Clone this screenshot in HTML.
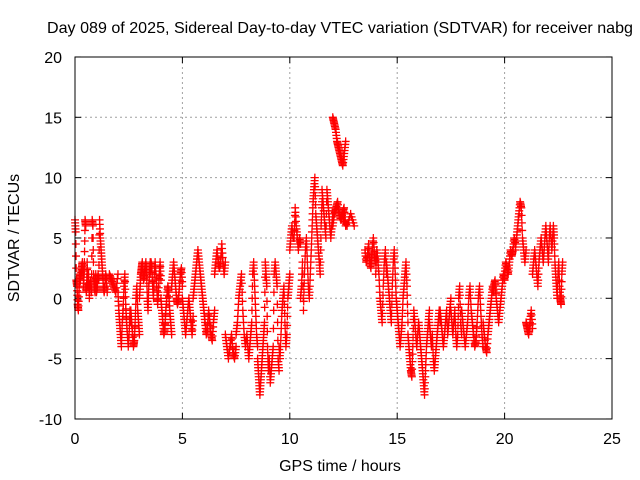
<!DOCTYPE html>
<html><head><meta charset="utf-8"><style>
body{margin:0;background:#fff}
svg{display:block;font-family:"Liberation Sans",sans-serif}
</style></head><body>
<svg id="chart" width="640" height="480" viewBox="0 0 640 480" xmlns="http://www.w3.org/2000/svg">
<text x="340" y="33" font-size="16" text-anchor="middle" textLength="586" lengthAdjust="spacingAndGlyphs">Day 089 of 2025, Sidereal Day-to-day VTEC variation (SDTVAR) for receiver nabg</text>
<text x="340" y="471" font-size="16" text-anchor="middle">GPS time / hours</text>
<text x="19" y="238" font-size="16" text-anchor="middle" transform="rotate(-90 19 238)">SDTVAR / TECUs</text>
<g id="grid"></g>
<g id="ticks"></g>
<g id="pts"></g>
<rect x="75" y="57" width="537" height="362" fill="none" stroke="#000" stroke-width="1"/>
</svg>
<script>
const xTicks=[0,5,10,15,20,25];
const yTicks=[-10,-5,0,5,10,15,20];
// segments: start hour, end hour, values (TECU)
const segStart=[0.0,0.5,1.0,1.6,2.0,2.6,3.0,3.5,4.0,4.5,5.0,5.5,6.0,6.5,7.0,7.5,8.0,8.5,9.0,9.5,10.0,10.5,11.0,11.5,12.0,12.0,12.5,13.5,14.0,14.5,15.0,15.5,16.0,16.5,17.0,17.5,18.0,18.5,19.0,19.5,20.0,20.5,21.0,21.3,21.8,22.2];
const segEnd  =[0.5,1.0,1.5,2.0,2.6,3.0,3.5,4.0,4.5,5.0,5.5,6.0,6.5,7.0,7.5,8.0,8.5,9.0,9.5,10.0,10.5,11.0,11.5,12.0,12.6,12.6,13.0,14.0,14.5,15.0,15.5,16.0,16.5,17.0,17.5,18.0,18.5,19.0,19.5,20.0,20.5,21.0,21.3,21.8,22.2,22.7];
const segVals=[
[6.5,5.5,1.5,1,-0.5,-1,0.5,2,1.5,2,2.5,3,2,1,3,6.5,6],
[1,0.5,3,1,2,0,1,1.5,0.5,6.5,6,2,1,0.5,2,1],
[0.5,1,2,1.5,6.5,5,4,3,2,1,0.5,1,2,1.5,0.5],
[2,1.5,1,0.5,2],
[0.5,-1,-2,-3,-4,-2,-1,1,2,-0.5,-2,-3,-4,-3,-1,-2],
[-1,-2,-3,-4,-3.5,-2,0,1,-1,-2,-3],
[0,1,2,2.5,3,2,1.5,2,2.5,3,2,0,-1,1,2,3],
[2,3,2.5,1,0,2,3,2,1,-0.5,0.5,2,3,1.5],
[0,-1,-2,-3,-2.5,-1,0,1,0.5,-1,-2,-3],
[1,2,3,2,1,0,-0.5,0,1,2,2.5,1],
[0,-1,-2,-3,-2,-1,0,-1,-2,-3,-1.5],
[0,1,2,3,4,3,2,1,0,-1],
[-1,-2,-3,-2.5,-1,-2,-3,-3.5,-2,-1],
[2,3,4,3,2.5,3,4.5,3,2,3],
[-3,-4,-5,-4,-3,-4.5,-5,-4],
[-3,-2,0,1,2,-1,-3,-4,-3],
[-3,-4,-5,-4,-3,-2,2,3,1,-1,-3,-4],
[-5,-6,-7,-8,-7,-6,-5,-4,-3,-2,3,2,1,-4,-6],
[-6,-5,-7,-6,-5,-4,2,3,2,1,-5,-6],
[-4,-5,-3,-1,0,1,-2,-4,-3,0,1,2],
[4,5,6,5,5,7.5,6,5,4,5,4.5],
[0,1,3,-1,2,4,5,3,1,0,2,4],
[4,6,8,9,10,7,6,5,4,3,2,6,8],
[9,8,7,6,5,9,8,7,6,5,6,7],
[15,14.5,14,13,12.5,12,11.5,11,12,13],
[6,7,7.5,8,7,6.5,7,7.5,6],
[6.5,6,7,6],
[4,3,3.5,4.5,3,2.5,4,5,3.5,3],
[2,4,3,2,0,-1,-2,1,3,4,2],
[3,2,1,0,-1,-2,1,3,4,2,0,-1],
[-1,-2,-3,-4,-3,-2,0,1,2,3,1,-2],
[-3,-4,-5,-6,-6.5,-4,-1,-2,-3,-4,-3,-2],
[-2,-3,-4,-5,-6,-7,-8,-6,-4,-3,-2,-1],
[-2,-3,-4,-3,-5,-6,-5,-4,-3,-2,-1,-2],
[-1,-2,-3,-4,-3,-2,-1,-3,-2,-1,0],
[-1,-2,-3,-2,-1,-3,-4,-3,0,1,-2,-3],
[-1,-2,-3,-4,-3,-2,0,1,-1,-2],
[-2,-3,-4,-3.5,-2,0,1,-1,-3,-4],
[-2,-3,-4,-4.5,-3,-2,-1,0,1,0.5],
[1,1.5,0,-1,-2,-1,0,1,2,1.5],
[2,3,2.5,2,3,4,3.5,4,5,4.5],
[4,5,6,7,8,7.5,5,4,3,4],
[-2,-2.5,-3,-2,-1,-2.5],
[2,3,4,3,2,1,3,4,5,4,3],
[3,4,5,6,5,4,3,5,6,5,4],
[4,5,6,5,3,2,1,0,2,3,1,0,-0.5,2,3]
];
const svgNS="http://www.w3.org/2000/svg";
const X=t=>75+t*537/25, Y=v=>298.3-v*362/30;
const grid=document.getElementById('grid'), ticks=document.getElementById('ticks'), pts=document.getElementById('pts');
function mk(tag,attrs,parent){const e=document.createElementNS(svgNS,tag);for(const k in attrs)e.setAttribute(k,attrs[k]);parent.appendChild(e);return e;}
xTicks.forEach(t=>{
  const x=X(t);
  if(t>0&&t<25){const g=mk('line',{x1:x,y1:57,x2:x,y2:419,stroke:'#a0a0a0','stroke-dasharray':'2,3'},grid);
  
  }
  mk('line',{x1:x,y1:419,x2:x,y2:413,stroke:'#000'},ticks);
  mk('line',{x1:x,y1:57,x2:x,y2:63,stroke:'#000'},ticks);
  const l=mk('text',{x:x,y:444,'font-size':16,'text-anchor':'middle'},ticks);l.textContent=t;
  
  
});
yTicks.forEach(v=>{
  const y=Y(v);
  if(v>-10&&v<20){const g=mk('line',{x1:75,y1:y,x2:612,y2:y,stroke:'#a0a0a0','stroke-dasharray':'2,3'},grid);
  
  }
  mk('line',{x1:75,y1:y,x2:81,y2:y,stroke:'#000'},ticks);
  mk('line',{x1:612,y1:y,x2:606,y2:y,stroke:'#000'},ticks);
  const l=mk('text',{x:62,y:y+6,'font-size':16,'text-anchor':'end'},ticks);l.textContent=v;
  
  
});
let d='';
const SUB=4;
segVals.forEach((vals,i)=>{
  const a=segStart[i], b=segEnd[i], n=vals.length;
  const step=n>1?(b-a)/(n-1):0;
  vals.forEach((v,j)=>{
    const t=a+step*j;
    const x=X(t), y=Y(v);
    d+=`M${x-4},${y}h8M${x},${y-4}v8`;
    if(j<n-1){
      for(let k=1;k<SUB;k++){
        const f=k/SUB, v2=v+(vals[j+1]-v)*f, t2=t+step*f;
        const x2=X(t2), y2=Y(v2);
        d+=`M${x2-4},${y2}h8M${x2},${y2-4}v8`;
      }
    }
  });
});
const p=mk('path',{d:d,stroke:'#ff0000','stroke-width':1.3,fill:'none'},pts);


</script>
</body></html>
